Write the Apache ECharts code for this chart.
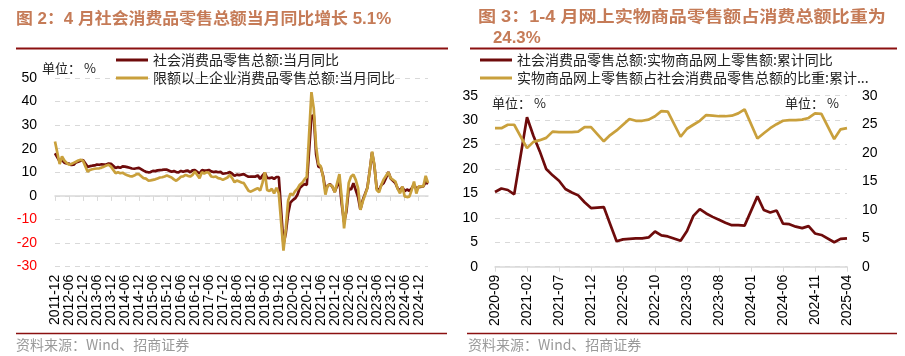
<!DOCTYPE html>
<html><head><meta charset="utf-8">
<script src="https://cdn.jsdelivr.net/npm/echarts@6/dist/echarts.min.js"></script>
<style>html,body{margin:0;padding:0;background:#fff}#c{width:905px;height:356px}</style>
</head><body><div id="c"></div>
<script>
// ---- categories ----
function monthList(y, m, n) { const out = []; for (let i = 0; i < n; i++) { out.push(y + '-' + (m < 10 ? '0' + m : m)); m++; if (m > 12) { m = 1; y++; } } return out; }
const leftCategories = monthList(2011, 12, 161);   // 2011-12 .. 2025-04
const rightCategories = monthList(2020, 9, 56);    // 2020-09 .. 2025-04

// ---- left chart: 社会消费品零售总额 当月同比 (%), Jan = null ----
const retailYoY = [18.1,
  null,14.7,15.2,14.1,13.8,13.7,13.1,13.2,14.2,14.5,14.9,15.2,
  null,12.3,12.6,12.8,12.9,13.3,13.2,13.4,13.3,13.3,13.7,13.6,
  null,11.8,12.2,11.9,12.5,12.4,12.2,11.9,11.6,11.5,11.7,11.9,
  null,10.7,10.2,10.0,10.1,10.6,10.5,10.8,10.9,11.0,11.2,11.1,
  null,10.2,10.5,10.1,10.0,10.6,10.2,10.6,10.7,10.0,10.8,10.9,
  null,9.5,10.9,10.7,10.7,11.0,10.4,10.1,10.3,10.0,10.2,9.4,
  null,9.7,10.1,9.4,8.5,9.0,8.8,9.0,9.2,8.6,8.1,8.2,
  null,8.2,8.7,7.2,8.6,9.8,7.6,7.5,7.8,7.2,8.0,8.0,
  null,-20.5,-15.8,-7.5,-2.8,-1.8,-1.1,0.5,3.3,4.3,5.0,4.6,
  null,33.8,34.2,17.7,12.4,12.1,8.5,2.5,4.4,4.9,3.9,1.7,
  null,6.7,-3.5,-11.1,-6.7,3.1,2.7,5.4,2.5,-0.5,-5.9,-1.8,
  null,3.5,10.6,18.4,12.7,3.1,2.5,4.6,5.5,7.6,10.1,7.4,
  null,5.5,3.1,2.3,3.7,2.0,2.7,2.1,3.2,4.8,3.0,3.7,
  null,4.0,5.9,5.1];
// 限额以上企业消费品零售总额 当月同比 (%)
const aboveQuotaYoY = [23.1,
  null,13.5,16.7,15.0,14.0,13.2,13.5,14.0,14.5,15.0,15.3,14.9,
  null,10.3,11.0,11.3,11.5,11.6,11.7,12.0,12.4,12.9,13.2,12.4,
  null,9.6,10.0,9.6,9.8,9.2,8.8,8.4,8.2,8.6,9.2,9.2,
  null,7.5,7.3,6.5,6.6,6.8,7.0,7.4,7.8,7.9,8.2,8.6,
  null,7.8,7.0,6.4,7.2,8.1,8.3,8.9,8.5,8.2,8.9,10.3,
  null,7.5,10.0,9.5,10.0,9.8,8.2,8.0,8.2,7.5,7.3,6.8,
  null,7.8,8.9,7.5,5.8,6.5,6.1,5.7,5.4,3.8,2.2,1.8,
  null,2.8,3.3,2.2,5.5,10.0,2.5,2.0,3.0,1.0,3.5,1.0,
  null,-23.2,-14.0,-2.0,1.0,0.3,2.0,3.0,4.7,5.5,7.0,8.0,
  null,44.0,37.0,21.0,13.5,12.6,8.0,0.5,4.5,4.7,4.0,1.5,
  null,9.2,-1.0,-13.8,-5.0,5.5,8.2,9.0,6.8,3.3,-5.9,-2.4,
  null,3.3,10.5,18.8,13.2,2.5,1.5,4.7,7.0,8.5,10.0,7.5,
  null,6.1,3.0,1.1,4.0,-0.2,-0.5,-0.3,2.5,6.1,1.0,4.0,
  null,4.0,8.5,5.5];

// ---- right chart ----
// 社会消费品零售总额:实物商品网上零售额:累计同比 (%), left axis
const onlineYoY = [15.3,16.0,15.7,14.8,
  null,30.6,26.8,23.6,20.0,18.7,17.6,15.9,15.2,14.6,13.2,12.0,
  null,12.2,8.7,5.2,5.6,5.7,5.8,5.8,6.0,7.2,6.4,6.2,
  null,5.3,7.3,10.4,11.8,10.9,10.2,9.6,9.0,8.5,8.5,8.4,
  null,14.4,11.6,11.1,11.5,8.8,8.7,8.2,7.9,8.3,6.8,6.5,
  null,5.0,5.7,5.8];
// 实物商品网上零售额占社会消费品零售总额的比重:累计 (%), right axis
const onlineShare = [24.3,24.3,24.9,24.9,
  null,20.8,21.9,22.2,22.6,23.7,23.6,23.6,23.6,23.7,24.5,24.5,
  null,22.0,23.1,23.9,24.9,25.9,25.6,25.6,25.8,26.4,27.3,27.2,
  null,22.8,24.2,24.9,25.6,26.6,26.5,26.4,26.4,26.5,26.9,27.6,
  null,22.5,23.4,24.3,25.0,25.6,25.7,25.7,25.8,26.1,26.9,26.8,
  null,22.4,24.1,24.3];

// ---- tick settings ----
const leftYTicks = { min: -30, max: 50, interval: 10 };
const rightYLeftTicks = { min: 0, max: 35, interval: 5 };
const rightYRightTicks = { min: 0, max: 30, interval: 5 };

const names = {
  l1: '社会消费品零售总额:当月同比',
  l2: '限额以上企业消费品零售总额:当月同比',
  r1: '社会消费品零售总额:实物商品网上零售额:累计同比',
  r2: '实物商品网上零售额占社会消费品零售总额的比重:累计值'
};
const legendShown = {};
legendShown[names.r2] = '实物商品网上零售额占社会消费品零售总额的比重:累计...';

const DARK = '#6E0B0B', GOLD = '#C9A03C';
const FONT = '"Liberation Sans", Arial, "Noto Sans CJK SC", sans-serif';
const CJK = '"Noto Sans CJK SC", "Liberation Sans", sans-serif';
const TITLE = '#C57B57', RULE = '#8B1010';

const chart = echarts.init(document.getElementById('c'), null, { renderer: 'canvas' });
const axisLblX = { interval: 0, rotate: 90, fontSize: 14, color: '#000', fontFamily: FONT, margin: 8 };
const dashed = { show: true, lineStyle: { color: '#d9d9d9', type: [5, 5], width: 1 } };

function txt(x, y, text, opts, sx) {
  return { type: 'text', x: x, y: y, scaleX: sx || 1, silent: true,
    style: Object.assign({ text: text, verticalAlign: 'middle', fontFamily: CJK, fontSize: 13, fill: '#222' }, opts || {}) };
}
function rule(x1, x2, y, w) {
  return { type: 'line', silent: true, shape: { x1: x1, y1: y, x2: x2, y2: y }, style: { stroke: RULE, lineWidth: w } };
}
const titleStyle = { fill: TITLE, fontSize: 16, fontWeight: 'bold', fontFamily: FONT };

chart.setOption({
  animation: false,
  backgroundColor: '#fff',
  grid: [
    { left: 55, top: 78, width: 373, height: 188.6 },
    { left: 495, top: 95.7, width: 352, height: 171 }
  ],
  legend: [
    { orient: 'vertical', left: 116, top: 53, padding: 0, itemWidth: 32, itemHeight: 3, itemGap: 4, icon: 'rect',
      data: [names.l1, names.l2], textStyle: { fontSize: 14, color: '#222', fontFamily: CJK } },
    { orient: 'vertical', left: 480, top: 53, padding: 0, itemWidth: 32, itemHeight: 3, itemGap: 4, icon: 'rect',
      data: [names.r1, names.r2], formatter: function (n) { return legendShown[n] || n; },
      textStyle: { fontSize: 14, color: '#222', fontFamily: CJK } }
  ],
  xAxis: [
    { type: 'category', gridIndex: 0, data: leftCategories, boundaryGap: false, position: 'bottom',
      axisLine: { show: false, onZero: false }, axisTick: { show: false },
      axisLabel: Object.assign({}, axisLblX, { interval: 5 }), splitLine: { show: false } },
    { type: 'category', gridIndex: 0, data: leftCategories, boundaryGap: false, position: 'bottom',
      axisLine: { show: true, onZero: true, lineStyle: { color: '#d9d9d9', width: 1.5 } },
      axisTick: { show: true, interval: 5, length: 5, lineStyle: { color: '#d9d9d9' } },
      axisLabel: { show: false }, splitLine: { show: false } },
    { type: 'category', gridIndex: 1, data: rightCategories, boundaryGap: false,
      axisLine: { show: true, lineStyle: { color: '#d9d9d9', width: 1.5 } },
      axisTick: { show: true, interval: 4, length: 5, lineStyle: { color: '#d9d9d9' } },
      axisLabel: Object.assign({}, axisLblX, { interval: 4 }), splitLine: { show: false } }
  ],
  yAxis: [
    { type: 'value', gridIndex: 0, min: leftYTicks.min, max: leftYTicks.max, interval: leftYTicks.interval,
      axisLine: { show: false }, axisTick: { show: false }, splitLine: dashed,
      axisLabel: { fontSize: 14, fontFamily: FONT, margin: 18, color: function (v) { return v < 0 ? '#FF0000' : '#000'; } } },
    { type: 'value', gridIndex: 1, position: 'left', min: rightYLeftTicks.min, max: rightYLeftTicks.max, interval: rightYLeftTicks.interval,
      axisLine: { show: false }, axisTick: { show: false }, splitLine: dashed,
      axisLabel: { fontSize: 14, fontFamily: FONT, margin: 17, color: '#000' } },
    { type: 'value', gridIndex: 1, position: 'right', min: rightYRightTicks.min, max: rightYRightTicks.max, interval: rightYRightTicks.interval,
      axisLine: { show: false }, axisTick: { show: false }, splitLine: { show: false },
      axisLabel: { fontSize: 14, fontFamily: FONT, margin: 15, color: '#000' } }
  ],
  series: [
    { name: names.l1, type: 'line', xAxisIndex: 0, yAxisIndex: 0, data: retailYoY, connectNulls: true,
      symbol: 'none', lineStyle: { color: DARK, width: 2.7 }, itemStyle: { color: DARK } },
    { name: names.l2, type: 'line', xAxisIndex: 0, yAxisIndex: 0, data: aboveQuotaYoY, connectNulls: true,
      symbol: 'none', lineStyle: { color: GOLD, width: 2.7 }, itemStyle: { color: GOLD } },
    { name: names.r1, type: 'line', xAxisIndex: 2, yAxisIndex: 1, data: onlineYoY, connectNulls: true,
      symbol: 'none', lineStyle: { color: DARK, width: 2.7 }, itemStyle: { color: DARK } },
    { name: names.r2, type: 'line', xAxisIndex: 2, yAxisIndex: 2, data: onlineShare, connectNulls: true,
      symbol: 'none', lineStyle: { color: GOLD, width: 2.7 }, itemStyle: { color: GOLD } }
  ],
  graphic: [
    txt(16, 20, '图 2：4 月社会消费品零售总额当月同比增长 5.1%', titleStyle, 1.055),
    txt(478, 18, '图 3：1-4 月网上实物商品零售额占消费总额比重为', titleStyle, 1.13),
    txt(493, 39, '24.3%', titleStyle, 1.05),
    rule(16, 448, 48.5, 2),
    rule(470, 897, 48.5, 2),
    txt(42, 68, '单位： %'),
    txt(492, 103, '单位： %'),
    txt(785, 103, '单位： %'),
    rule(16, 447, 333.5, 1.5),
    rule(467, 897, 333.5, 1.5),
    txt(16, 345, '资料来源：Wind、招商证券', { fill: '#999', fontSize: 14 }),
    txt(468, 345, '资料来源：Wind、招商证券', { fill: '#999', fontSize: 14 })
  ]
});
</script></body></html>
